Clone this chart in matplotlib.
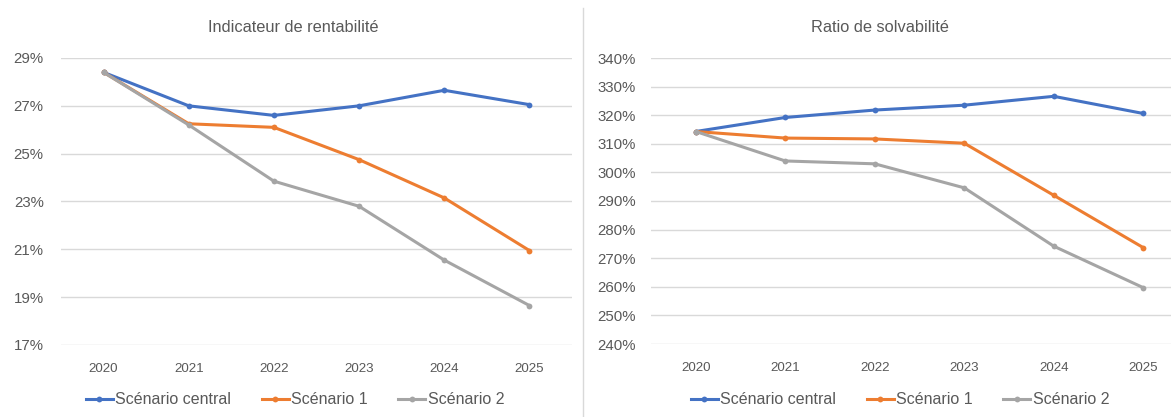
import matplotlib
matplotlib.use("Agg")
import matplotlib.pyplot as plt
from matplotlib.lines import Line2D
from matplotlib.ticker import FuncFormatter

plt.rcParams['font.family'] = ['Liberation Sans Narrow', 'Liberation Sans', 'DejaVu Sans']

years = ["2020", "2021", "2022", "2023", "2024", "2025"]
series_names = ["Scénario central", "Scénario 1", "Scénario 2"]
colors = ["#4472C4", "#ED7D31", "#A5A5A5"]

# Profitability indicator (%)
rent_central = [28.4, 27.0, 26.6, 27.0, 27.65, 27.05]
rent_s1 = [28.4, 26.25, 26.1, 24.75, 23.15, 20.95]
rent_s2 = [28.4, 26.2, 23.85, 22.8, 20.55, 18.65]

# Solvency ratio (%)
solv_central = [314.3, 319.2, 321.8, 323.5, 326.6, 320.6]
solv_s1 = [314.3, 312.0, 311.7, 310.2, 292.0, 273.7]
solv_s2 = [314.3, 304.0, 303.0, 294.6, 274.2, 259.7]

left_ticks = [17, 19, 21, 23, 25, 27, 29]
right_ticks = [240, 250, 260, 270, 280, 290, 300, 310, 320, 330, 340]

W, H = 1171, 417
TEXT = "#595959"
GRID = "#D9D9D9"

fig = plt.figure(figsize=(W / 100, H / 100), dpi=100)


def px_axes(x0, x1, ytop, ybot):
    return fig.add_axes([x0 / W, 1 - ybot / H, (x1 - x0) / W, (ybot - ytop) / H])


def draw_panel(ax, data, ticks, ypad):
    x = list(range(len(years)))
    for vals, c, name in zip(data, colors, series_names):
        ax.plot(x, vals, color=c, lw=2.2, marker="o", ms=4.2,
                markeredgewidth=0, label=name, solid_capstyle="round",
                zorder=3)
    ax.set_xlim(-0.5, len(years) - 0.5)
    ax.set_ylim(ticks[0], ticks[-1])
    ax.set_yticks(ticks)
    ax.yaxis.set_major_formatter(FuncFormatter(lambda v, p: f"{v:.0f}%"))
    ax.set_xticks(x)
    ax.set_xticklabels(years)
    ax.grid(axis="y", color=GRID, lw=1.0)
    ax.set_axisbelow(True)
    for s in ax.spines.values():
        s.set_visible(False)
    ax.tick_params(axis="both", length=0, colors=TEXT)
    ax.tick_params(axis="y", pad=ypad, labelsize=10.8)
    ax.tick_params(axis="x", pad=13, labelsize=9.6)


ax1 = px_axes(61, 572, 58, 345)
draw_panel(ax1, [rent_central, rent_s1, rent_s2], left_ticks, 12.5)

ax2 = px_axes(651, 1188, 58, 344)
draw_panel(ax2, [solv_central, solv_s1, solv_s2], right_ticks, 11)

fig.text(293 / W, 1 - 27 / H, "Indicateur de rentabilité", ha="center",
         va="center", fontsize=11.8, color=TEXT)
fig.text(880 / W, 1 - 27 / H, "Ratio de solvabilité", ha="center",
         va="center", fontsize=11.8, color=TEXT)

# separator between the two charts
fig.add_artist(Line2D([583 / W, 583 / W], [0, 1 - 8 / H], color="#D9D9D9",
                      lw=1.0, transform=fig.transFigure))

handles = [Line2D([], [], color=c, lw=2.2, marker="o", ms=4.2,
                  markeredgewidth=0) for c in colors]
for cx in (295, 900):
    fig.legend(handles, series_names, loc="center",
               bbox_to_anchor=(cx / W, 1 - 400 / H), ncol=3, frameon=False,
               fontsize=11.5, labelcolor=TEXT, handlelength=1.7,
               handletextpad=0.15, columnspacing=1.9, borderaxespad=0)

fig.savefig("out.png", dpi=100)
